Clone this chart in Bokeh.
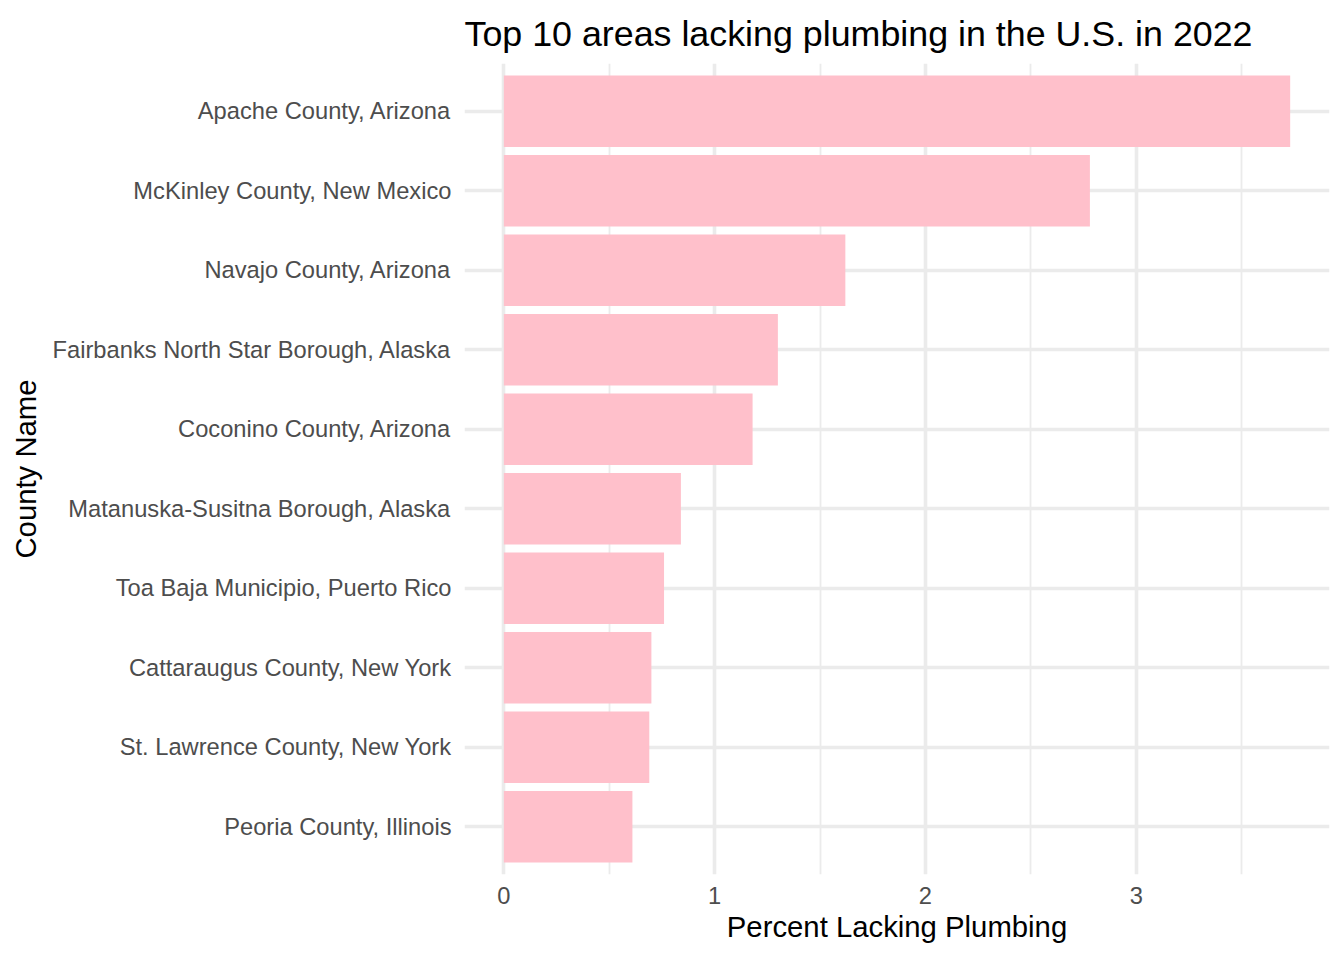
from bokeh.plotting import figure
from bokeh.models import ColumnDataSource, FactorRange, Range1d, FixedTicker, Title
from bokeh.embed import file_html
from bokeh.resources import INLINE

title_text = "Top 10 areas lacking plumbing in the U.S. in 2022"
counties = [
    "Apache County, Arizona",
    "McKinley County, New Mexico",
    "Navajo County, Arizona",
    "Fairbanks North Star Borough, Alaska",
    "Coconino County, Arizona",
    "Matanuska-Susitna Borough, Alaska",
    "Toa Baja Municipio, Puerto Rico",
    "Cattaraugus County, New York",
    "St. Lawrence County, New York",
    "Peoria County, Illinois",
]
pct_lacking = [3.73, 2.78, 1.62, 1.30, 1.18, 0.84, 0.76, 0.70, 0.69, 0.61]
x_ticks = [0, 1, 2, 3]
x_minor = [0.5, 1.5, 2.5, 3.5]

FONT = "Liberation Sans"
GRID = "#EBEBEB"

source = ColumnDataSource(data=dict(county=counties, pct=pct_lacking))

xmax = max(pct_lacking)
pad = 0.05 * xmax

p = figure(
    y_range=FactorRange(factors=list(reversed(counties)), range_padding=0.1,
                        range_padding_units="absolute"),
    x_range=Range1d(-pad, xmax + pad),
    frame_width=865, frame_height=811,
    min_border_left=464, min_border_top=63, min_border_right=10, min_border_bottom=80,
    output_backend="svg", toolbar_location=None,
)

p.hbar(y="county", left=0, right="pct", height=0.9, source=source,
       fill_color="#FFC0CB", line_color=None)

p.outline_line_color = None
p.background_fill_color = "white"
p.border_fill_color = "white"

p.add_layout(Title(text=title_text, text_font=FONT, text_font_style="normal",
                   text_font_size="35.8px", text_color="black", align="left",
                   vertical_align="middle", standoff=17), "above")

# x axis
p.xaxis.ticker = FixedTicker(ticks=x_ticks, minor_ticks=x_minor)
p.xaxis.axis_label = "Percent Lacking Plumbing"
p.xaxis.axis_label_text_font = FONT
p.xaxis.axis_label_text_font_size = "29.3px"
p.xaxis.axis_label_text_font_style = "normal"
p.xaxis.axis_label_text_color = "black"
p.xaxis.axis_label_standoff = 3
p.xaxis.major_label_text_font = FONT
p.xaxis.major_label_text_font_size = "23.7px"
p.xaxis.major_label_text_color = "#4D4D4D"
p.xaxis.major_label_standoff = 12

# y axis
p.yaxis.axis_label = "County Name"
p.yaxis.axis_label_text_font = FONT
p.yaxis.axis_label_text_font_size = "29.3px"
p.yaxis.axis_label_text_font_style = "normal"
p.yaxis.axis_label_text_color = "black"
p.yaxis.axis_label_standoff = 8
p.yaxis.major_label_text_font = FONT
p.yaxis.major_label_text_font_size = "23.7px"
p.yaxis.major_label_text_color = "#4D4D4D"
p.yaxis.major_label_standoff = 13

for ax in (p.xaxis, p.yaxis):
    ax.axis_line_color = None
    ax.major_tick_line_color = None
    ax.minor_tick_line_color = None
    ax.major_tick_out = 0
    ax.major_tick_in = 0
    ax.minor_tick_out = 0
    ax.minor_tick_in = 0

# grids
p.xgrid.grid_line_color = GRID
p.xgrid.grid_line_width = 3.6
p.xgrid.minor_grid_line_color = GRID
p.xgrid.minor_grid_line_width = 1.8
p.ygrid.grid_line_color = GRID
p.ygrid.grid_line_width = 3.6

open("out.html", "w").write(file_html(p, INLINE))
